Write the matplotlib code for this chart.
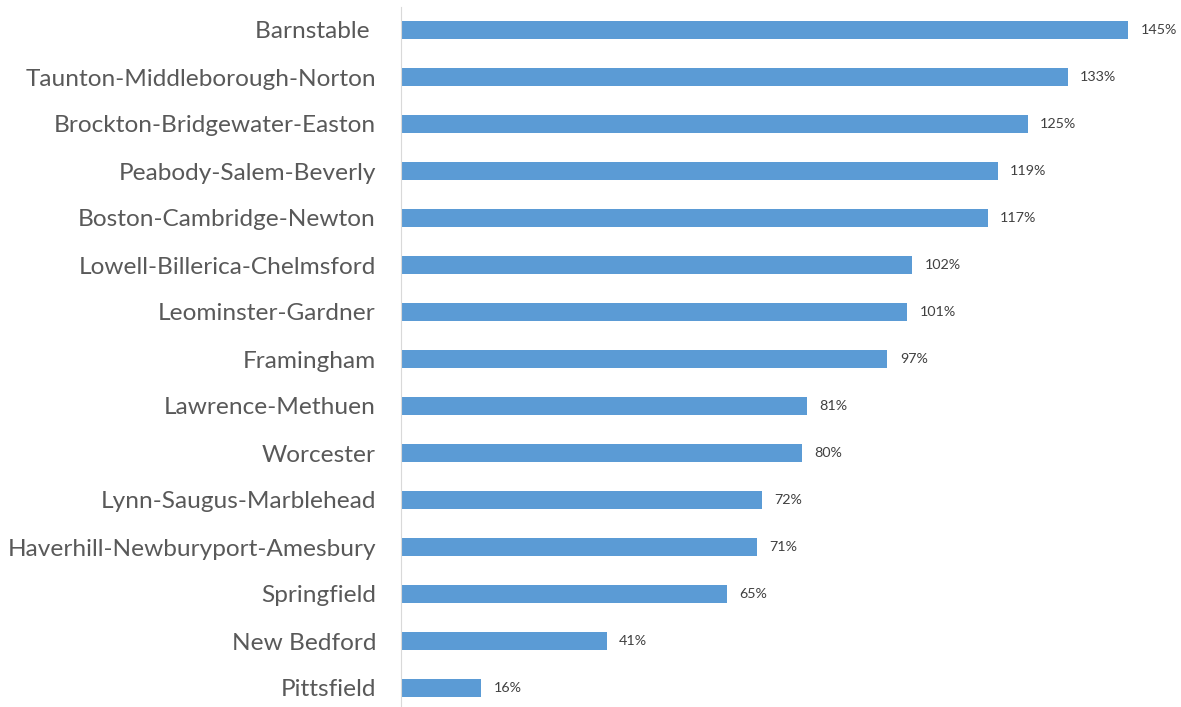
import matplotlib.pyplot as plt

regions = ["Barnstable ", "Taunton-Middleborough-Norton", "Brockton-Bridgewater-Easton",
           "Peabody-Salem-Beverly", "Boston-Cambridge-Newton", "Lowell-Billerica-Chelmsford",
           "Leominster-Gardner", "Framingham", "Lawrence-Methuen", "Worcester",
           "Lynn-Saugus-Marblehead", "Haverhill-Newburyport-Amesbury", "Springfield",
           "New Bedford", "Pittsfield"]
pct = [145, 133, 125, 119, 117, 102, 101, 97, 81, 80, 72, 71, 65, 41, 16]

plt.rcParams['font.family'] = ['Lato', 'DejaVu Sans']

fig = plt.figure(figsize=(11.81, 7.07), dpi=100)
ax = fig.add_axes([401/1181, -4.5/707, 780/1181, 705/707])

y = list(range(len(regions)))
ax.barh(y, pct, height=0.38, color='#5b9bd5')
for yi, v in zip(y, pct):
    ax.text(v + 2.5, yi, f"{v}%", va='center', ha='left', fontsize=10.3, color='#404040')

ax.set_yticks(y)
ax.set_yticklabels(regions, fontsize=17.6, color='#595959')
ax.set_ylim(len(regions) - 0.5, -0.5)
ax.set_xlim(0, 155.6)
ax.tick_params(axis='y', length=0, pad=18)
ax.set_xticks([])
for s in ['top', 'right', 'bottom']:
    ax.spines[s].set_visible(False)
ax.spines['left'].set_color('#d9d9d9')

fig.savefig('out.png', dpi=100)
